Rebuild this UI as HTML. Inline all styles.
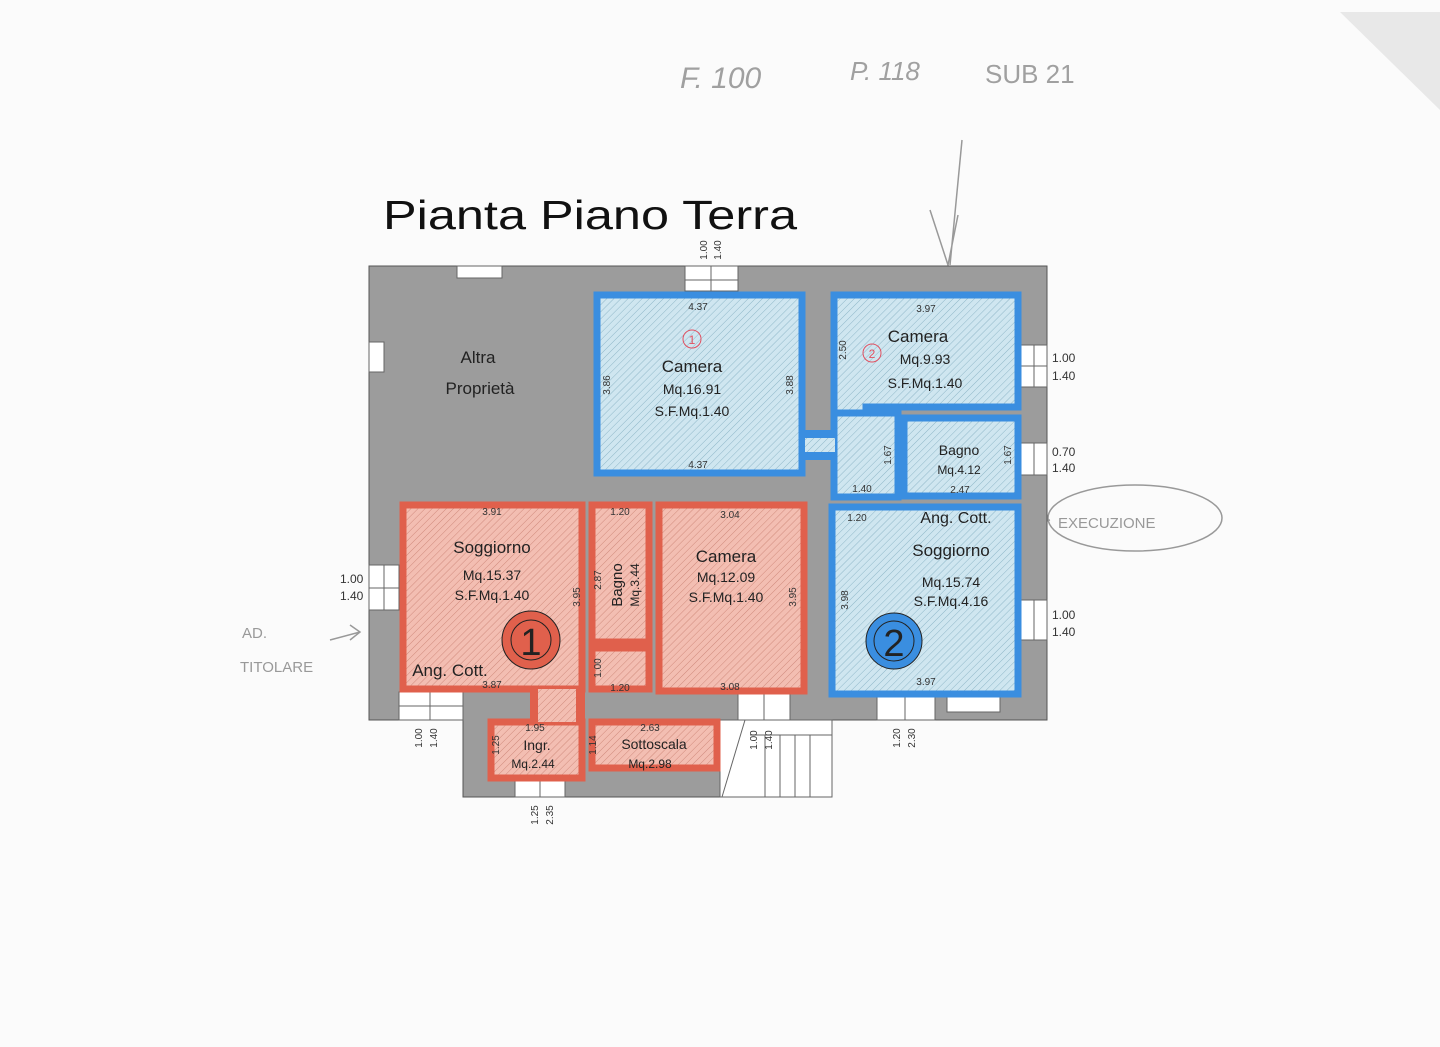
<!DOCTYPE html>
<html><head><meta charset="utf-8"><style>
html,body{margin:0;padding:0;background:#fbfbfb;}
svg{display:block}
text{font-family:"Liberation Sans",sans-serif;}
</style></head><body>
<svg width="1440" height="1047" viewBox="0 0 1440 1047" xmlns="http://www.w3.org/2000/svg">
<defs>
<pattern id="hb" width="5" height="5" patternUnits="userSpaceOnUse" patternTransform="rotate(45)">
<rect width="5" height="5" fill="#cfe6f0"/><line x1="0" y1="0" x2="0" y2="5" stroke="#8fb7c8" stroke-width="1"/></pattern>
<pattern id="hr" width="5" height="5" patternUnits="userSpaceOnUse" patternTransform="rotate(45)">
<rect width="5" height="5" fill="#f3beb2"/><line x1="0" y1="0" x2="0" y2="5" stroke="#d08a7c" stroke-width="1"/></pattern>
</defs>
<rect width="1440" height="1047" fill="#fbfbfb"/>
<polygon points="1340,12 1440,12 1440,110" fill="#e8e8e8"/>
<!-- handwriting -->
<g fill="none" stroke="#999" stroke-width="1.5">
<text x="680" y="88" font-size="30" fill="#a0a0a0" stroke="none" font-style="italic">F. 100</text>
<text x="850" y="80" font-size="26" fill="#a0a0a0" stroke="none" font-style="italic">P. 118</text>
<text x="985" y="83" font-size="26" fill="#a0a0a0" stroke="none">SUB 21</text>
<path d="M962,140 L950,265 M930,210 L948,265 L958,215"/>
<ellipse cx="1135" cy="518" rx="87" ry="33"/>
<text x="1058" y="528" font-size="15" fill="#999" stroke="none">EXECUZIONE</text>
<path d="M1020,525 L1050,520"/>
<text x="242" y="638" font-size="15" fill="#999" stroke="none">AD.</text>
<text x="240" y="672" font-size="15" fill="#999" stroke="none">TITOLARE</text>
<path d="M330,640 L360,632 M350,625 L360,632 L350,640"/>
</g>
<text x="383" y="229" font-size="41" fill="#111" textLength="414" lengthAdjust="spacingAndGlyphs">Pianta Piano Terra</text>
<!-- gray building -->
<path d="M369,266 H1047 V720 H832 V797 H463 V720 H369 Z" fill="#9c9c9c" stroke="#555" stroke-width="1"/>
<!-- windows -->
<g fill="#fff" stroke="#666" stroke-width="1">
<rect x="457" y="266" width="45" height="12"/>
<rect x="369" y="342" width="15" height="30"/>
<rect x="685" y="266" width="53" height="25"/>
<rect x="1021" y="345" width="26" height="42"/>
<rect x="1021" y="443" width="26" height="32"/>
<rect x="1021" y="600" width="26" height="40"/>
<rect x="369" y="565" width="30" height="45"/>
<rect x="399" y="692" width="64" height="28"/>
<rect x="738" y="694" width="52" height="26"/>
<rect x="877" y="697" width="58" height="23"/>
<rect x="947" y="697" width="53" height="15"/>
<rect x="515" y="781" width="50" height="16"/>
<rect x="720" y="720" width="112" height="77"/>
</g>
<g stroke="#666" stroke-width="1">
<line x1="711" y1="266" x2="711" y2="291"/><line x1="685" y1="280" x2="738" y2="280"/>
<line x1="1034" y1="345" x2="1034" y2="387"/><line x1="1021" y1="366" x2="1047" y2="366"/>
<line x1="1034" y1="443" x2="1034" y2="475"/><line x1="1034" y1="600" x2="1034" y2="640"/>
<line x1="369" y1="588" x2="399" y2="588"/><line x1="384" y1="565" x2="384" y2="610"/>
<line x1="430" y1="692" x2="430" y2="720"/><line x1="399" y1="706" x2="463" y2="706"/>
<line x1="764" y1="694" x2="764" y2="720"/><line x1="905" y1="697" x2="905" y2="720"/>
<line x1="540" y1="781" x2="540" y2="797"/>
<line x1="750" y1="735" x2="832" y2="735"/>
<line x1="765" y1="735" x2="765" y2="797"/><line x1="780" y1="735" x2="780" y2="797"/><line x1="795" y1="735" x2="795" y2="797"/><line x1="810" y1="735" x2="810" y2="797"/>
<line x1="745" y1="720" x2="722" y2="797"/>
</g>
<!-- blue rooms -->
<g fill="url(#hb)" stroke="#3a8ee0" stroke-width="7">
<rect x="597" y="295" width="205" height="178"/>
<path d="M834,295 H1018 V407 H866 V413 H834 Z"/>
<rect x="834" y="413" width="64" height="84"/>
<rect x="904" y="418" width="114" height="78"/>
<rect x="832" y="507" width="186" height="187"/>
<rect x="805" y="430" width="30" height="30" stroke-width="0" fill="#3a8ee0"/>
</g>
<rect x="805" y="438" width="30" height="14" fill="url(#hb)"/>
<!-- red rooms -->
<g fill="url(#hr)" stroke="#e0604c" stroke-width="7">
<rect x="403" y="505" width="179" height="184"/>
<rect x="592" y="505" width="57" height="137"/>
<rect x="592" y="648" width="57" height="41"/>
<rect x="659" y="505" width="145" height="186"/>
<rect x="491" y="722" width="91" height="56"/>
<rect x="592" y="722" width="125" height="46"/>
<rect x="530" y="689" width="55" height="33" stroke-width="0" fill="#e0604c"/>
</g>
<rect x="538" y="689" width="38" height="33" fill="url(#hr)"/>
<!-- dimension text -->
<g font-size="10" fill="#333" text-anchor="middle">
<text x="698" y="310">4.37</text><text x="698" y="468">4.37</text>
<text x="926" y="312">3.97</text><text x="862" y="492">1.40</text><text x="960" y="493">2.47</text>
<text x="492" y="515">3.91</text><text x="620" y="515">1.20</text><text x="730" y="518">3.04</text>
<text x="492" y="688">3.87</text><text x="620" y="691">1.20</text><text x="730" y="690">3.08</text>
<text x="857" y="521">1.20</text><text x="926" y="685">3.97</text>
<text x="535" y="731">1.95</text><text x="650" y="731">2.63</text>
</g>
<g font-size="10" fill="#333" text-anchor="middle">
<text transform="translate(610,385) rotate(-90)">3.86</text>
<text transform="translate(793,385) rotate(-90)">3.88</text>
<text transform="translate(846,350) rotate(-90)">2.50</text>
<text transform="translate(891,455) rotate(-90)">1.67</text>
<text transform="translate(1011,455) rotate(-90)">1.67</text>
<text transform="translate(580,597) rotate(-90)">3.95</text>
<text transform="translate(796,597) rotate(-90)">3.95</text>
<text transform="translate(848,600) rotate(-90)">3.98</text>
<text transform="translate(601,580) rotate(-90)">2.87</text>
<text transform="translate(601,668) rotate(-90)">1.00</text>
<text transform="translate(499,745) rotate(-90)">1.25</text>
<text transform="translate(596,745) rotate(-90)">1.14</text>
<text transform="translate(707,250) rotate(-90)">1.00</text><text transform="translate(721,250) rotate(-90)">1.40</text>
<text transform="translate(422,738) rotate(-90)">1.00</text><text transform="translate(437,738) rotate(-90)">1.40</text>
<text transform="translate(757,740) rotate(-90)">1.00</text><text transform="translate(772,740) rotate(-90)">1.40</text>
<text transform="translate(900,738) rotate(-90)">1.20</text><text transform="translate(915,738) rotate(-90)">2.30</text>
<text transform="translate(538,815) rotate(-90)">1.25</text><text transform="translate(553,815) rotate(-90)">2.35</text>
</g>
<g font-size="12" fill="#333">
<text x="1052" y="362">1.00</text><text x="1052" y="380">1.40</text>
<text x="1052" y="456">0.70</text><text x="1052" y="472">1.40</text>
<text x="1052" y="619">1.00</text><text x="1052" y="636">1.40</text>
<text x="340" y="583">1.00</text><text x="340" y="600">1.40</text>
</g>
<!-- labels -->
<g fill="#222" text-anchor="middle">
<text x="478" y="363" font-size="17">Altra</text><text x="480" y="394" font-size="17">Proprietà</text>
<circle cx="692" cy="339" r="9" fill="none" stroke="#e05060"/><text x="692" y="344" font-size="12" fill="#e05060">1</text>
<text x="692" y="372" font-size="17">Camera</text><text x="692" y="394" font-size="14">Mq.16.91</text><text x="692" y="416" font-size="14">S.F.Mq.1.40</text>
<circle cx="872" cy="353" r="9" fill="none" stroke="#e05060"/><text x="872" y="358" font-size="12" fill="#e05060">2</text>
<text x="918" y="342" font-size="17">Camera</text><text x="925" y="364" font-size="14">Mq.9.93</text><text x="925" y="388" font-size="14">S.F.Mq.1.40</text>
<text x="959" y="455" font-size="14">Bagno</text><text x="959" y="474" font-size="12">Mq.4.12</text>
<text x="956" y="523" font-size="16">Ang. Cott.</text>
<text x="951" y="556" font-size="17">Soggiorno</text><text x="951" y="587" font-size="14">Mq.15.74</text><text x="951" y="606" font-size="14">S.F.Mq.4.16</text>
<circle cx="894" cy="641" r="28" fill="#3a8ee0" stroke="#222"/><circle cx="894" cy="641" r="20" fill="none" stroke="#222"/><text x="894" y="656" font-size="38">2</text>
<text x="492" y="553" font-size="17">Soggiorno</text><text x="492" y="580" font-size="14">Mq.15.37</text><text x="492" y="600" font-size="14">S.F.Mq.1.40</text>
<circle cx="531" cy="640" r="29" fill="#e0604c" stroke="#222"/><circle cx="531" cy="640" r="20" fill="none" stroke="#222"/><text x="531" y="655" font-size="38">1</text>
<text x="450" y="676" font-size="17">Ang. Cott.</text>
<text x="726" y="562" font-size="17">Camera</text><text x="726" y="582" font-size="14">Mq.12.09</text><text x="726" y="602" font-size="14">S.F.Mq.1.40</text>
<text transform="translate(622,585) rotate(-90)" font-size="15">Bagno</text><text transform="translate(639,585) rotate(-90)" font-size="12">Mq.3.44</text>
<text x="537" y="750" font-size="14">Ingr.</text><text x="533" y="768" font-size="12">Mq.2.44</text>
<text x="654" y="749" font-size="14">Sottoscala</text><text x="650" y="768" font-size="12">Mq.2.98</text>
</g>
</svg>
</body></html>
